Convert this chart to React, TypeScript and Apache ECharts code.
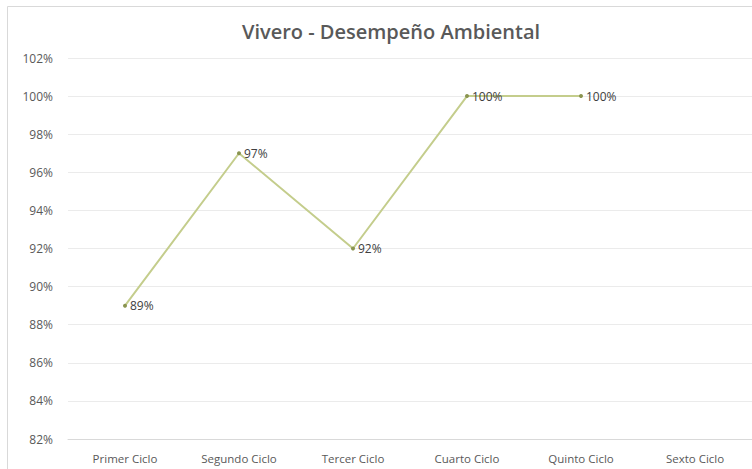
import React, { useEffect, useRef } from "react";
import * as echarts from "echarts";

const categories = ["Primer Ciclo", "Segundo Ciclo", "Tercer Ciclo", "Cuarto Ciclo", "Quinto Ciclo", "Sexto Ciclo"];
const values: (number | null)[] = [89, 97, 92, 100, 100, null];
const chartTitle = "Vivero - Desempeño Ambiental";

export default function App() {
  const ref = useRef<HTMLDivElement>(null);
  useEffect(() => {
    if (!ref.current) return;
    const chart = echarts.init(ref.current, null, { renderer: "svg" });
    chart.setOption({
      animation: false,
      backgroundColor: "#ffffff",
      textStyle: { fontFamily: "Open Sans" },
      title: {
        text: chartTitle,
        left: 386,
        top: 16,
        textAlign: "center",
        textStyle: { fontSize: 20, fontWeight: 600, color: "#595959", fontFamily: "Open Sans" },
      },
      graphic: [
        {
          type: "rect",
          shape: { x: 7.5, y: 6.5, width: 760, height: 480 },
          style: { fill: "none", stroke: "#d9d9d9", lineWidth: 1 },
          silent: true,
        },
      ],
      grid: { left: 68, right: -2, top: 58, bottom: 30 },
      xAxis: {
        type: "category",
        data: categories,
        boundaryGap: true,
        axisLine: { show: true, lineStyle: { color: "#d9d9d9" } },
        axisTick: { show: false },
        axisLabel: { color: "#595959", fontSize: 11.5, margin: 13 },
      },
      yAxis: {
        type: "value",
        min: 82,
        max: 102,
        interval: 2,
        axisLine: { show: false },
        axisTick: { show: false },
        splitLine: { lineStyle: { color: "#ebebeb" } },
        axisLabel: { color: "#595959", fontSize: 12, margin: 15, formatter: (v: number) => v + "%" },
      },
      series: [
        {
          type: "line",
          data: values,
          symbol: "circle",
          symbolSize: 4,
          itemStyle: { color: "#8a9450" },
          lineStyle: { color: "#c4cd8c", width: 2 },
          label: {
            show: true,
            position: "right",
            distance: 3,
            color: "#404040",
            fontSize: 12,
            formatter: (p: any) => p.value + "%",
          },
        },
      ],
    });
    return () => chart.dispose();
  }, []);
  return <div ref={ref} style={{ position: "absolute", left: 0, top: 0, width: 752, height: 469 }} />;
}
